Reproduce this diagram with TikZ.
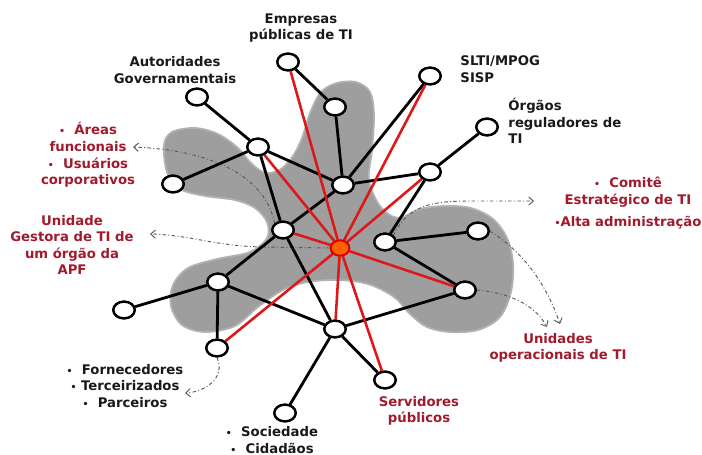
\documentclass[tikz,border=0pt]{standalone}
\usepackage{fontspec}
\setmainfont{DejaVu Sans}
\usetikzlibrary{shapes.geometric,arrows.meta}
\definecolor{textored}{RGB}{160,27,45}
\definecolor{linhared}{RGB}{222,24,24}
\definecolor{blobcinza}{RGB}{158,158,158}
\definecolor{laranja}{RGB}{255,96,0}
\newcommand{\marca}{{\fontsize{8}{8}\selectfont •}}
\tikzset{
  vert/.style={ellipse, draw=black, line width=2pt, fill=white, minimum width=0.64cm, minimum height=0.5cm, inner sep=0pt},
  centro/.style={ellipse, draw=red!85!black, line width=1.6pt, fill=laranja, minimum width=0.56cm, minimum height=0.46cm, inner sep=0pt},
  rot/.style={font=\bfseries\fontsize{11.3}{14.1}\selectfont, align=center, inner sep=0pt, text=black!90},
  rotred/.style={rot, text=textored},
  lig/.style={line width=2.4pt, draw=black},
  ligred/.style={line width=2.2pt, draw=linhared},
  seta/.style={dash dot, line width=0.8pt, draw=black!65, -{Straight Barb[length=4pt,width=7pt]}},
}
\begin{document}
\begin{tikzpicture}[thick, x=0.03cm, y=-0.03cm]
\useasboundingbox (0,0) rectangle (702,455);
% mancha cinza
\filldraw[fill=blobcinza, draw=gray!60, line width=1.5pt] plot[smooth cycle, tension=0.55] coordinates {
 (164,145) (172,132) (195,128) (218,134) (238,148) (252,164) (266,173) (281,169) (293,156)
 (302,138) (310,113) (321,92) (337,83) (356,82) (370,92) (374,115) (372,150) (369,180)
 (380,206) (398,218) (420,209) (445,206) (471,208) (493,219) (507,238) (513,263) (511,292)
 (500,317) (478,330) (450,332) (427,327) (410,314) (394,297) (368,284) (338,280) (308,282)
 (283,290) (258,307) (235,326) (205,332) (182,325) (171,306) (173,285) (188,268) (217,259)
 (250,252) (267,238) (267,222) (255,208) (235,200) (205,196) (180,189) (167,172)};
% vertices
\node[vert] (P_emp_a) at (288,62) {};
\node[vert] (P_emp_b) at (335,107) {};
\node[vert] (P_aut) at (197,97) {};
\node[vert] (P_areas) at (258,147) {};
\node[vert] (P_usu) at (173,184) {};
\node[vert] (P_meio) at (343,185) {};
\node[vert] (P_slti) at (430,76) {};
\node[vert] (P_org) at (487,127) {};
\node[vert] (P_dir) at (430,172) {};
\node[vert] (P_gestora) at (283,230) {};
\node[vert] (P_comite) at (385,242) {};
\node[vert] (P_alta) at (478,231) {};
\node[vert] (P_oper) at (465,290) {};
\node[vert] (P_apf) at (218,282) {};
\node[vert] (P_esq) at (124,310) {};
\node[vert] (P_forn) at (217,348) {};
\node[vert] (P_baixo) at (335,329) {};
\node[vert] (P_soc) at (285,413) {};
\node[vert] (P_serv) at (385,380) {};
\node[centro] (P_centro) at (340,248) {};
% setas tracejadas
\coordinate (S_areas) at (133,147);
\coordinate (S_gestora) at (150,234);
\coordinate (S_comite) at (534,201);
\coordinate (S_op_a) at (560,324);
\coordinate (S_op_b) at (547,327);
\coordinate (S_forn) at (185,393);
\draw[seta] (P_gestora.north west) .. controls (265,175) and (210,150) .. (S_areas);
\draw[seta] (P_centro.west) -- (262,247) .. controls (215,246) and (190,235) .. (S_gestora);
\draw[seta] (P_comite.north east) .. controls (408,206) and (430,201) .. (470,201) -- (S_comite);
\draw[seta] (P_alta.east) .. controls (520,250) and (545,280) .. (S_op_a);
\draw[seta] (P_oper.east) .. controls (510,293) and (535,305) .. (S_op_b);
\draw[seta] (P_forn.south) .. controls (226,378) and (205,392) .. (S_forn);
% ligacoes pretas
\draw[lig] (P_emp_a) -- (P_emp_b);
\draw[lig] (P_emp_b) -- (P_meio);
\draw[lig] (P_aut) -- (P_areas);
\draw[lig] (P_areas) -- (P_usu);
\draw[lig] (P_areas) -- (P_meio);
\draw[lig] (P_areas) -- (P_gestora);
\draw[lig] (P_meio) -- (P_dir);
\draw[lig] (P_meio) -- (P_gestora);
\draw[lig] (P_slti) -- (P_meio);
\draw[lig] (P_org) -- (P_dir);
\draw[lig] (P_dir) -- (P_comite);
\draw[lig] (P_comite) -- (P_alta);
\draw[lig] (P_comite) -- (P_oper);
\draw[lig] (P_gestora) -- (P_apf);
\draw[lig] (P_gestora) -- (P_baixo);
\draw[lig] (P_apf) -- (P_esq);
\draw[lig] (P_apf) -- (P_forn);
\draw[lig] (P_apf) -- (P_baixo);
\draw[lig] (P_baixo) -- (P_oper);
\draw[lig] (P_baixo) -- (P_soc);
\draw[lig] (P_baixo) -- (P_serv);
% ligacoes vermelhas
\draw[ligred] (P_centro) -- (P_emp_a);
\draw[ligred] (P_centro) -- (P_slti);
\draw[ligred] (P_centro) -- (P_areas);
\draw[ligred] (P_centro) -- (P_dir);
\draw[ligred] (P_centro) -- (P_gestora);
\draw[ligred] (P_centro) -- (P_oper);
\draw[ligred] (P_centro) -- (P_forn);
\draw[ligred] (P_centro) -- (P_baixo);
\draw[ligred] (P_centro) -- (P_serv);
% redesenha os vertices por cima
\foreach \v in {P_emp_a,P_emp_b,P_aut,P_areas,P_usu,P_meio,P_slti,P_org,P_dir,P_gestora,P_comite,P_alta,P_oper,P_apf,P_esq,P_forn,P_baixo,P_soc,P_serv}
  \node[vert] at (\v) {};
\node[centro] at (P_centro) {};
% rotulos
\node[rot] (T_emp) at (301,28) {Empresas\\públicas de TI};
\node[rot] (T_aut) at (175,70) {Autoridades\\Governamentais};
\node[rot, anchor=west, align=left] (T_slti) at (460,69) {SLTI/MPOG\\SISP};
\node[rot, anchor=west, align=left] (T_org) at (508,121) {Órgãos\\reguladores de\\TI};
\node[rotred] (T_areas) at (88,155) {\marca\ \ Áreas\\funcionais\\\marca\ \ Usuários\\corporativos};
\node[rotred] (T_gestora) at (72,245) {Unidade\\Gestora de TI de\\um órgão da\\APF};
\node[rotred] (T_comite) at (628,203) {\marca\ \ Comitê\\Estratégico de TI\\[5pt]\marca Alta administração};
\node[rotred] (T_op) at (558,348) {Unidades\\operacionais de TI};
\node[rotred] (T_serv) at (419,411) {Servidores\\públicos};
\node[rot] (T_forn) at (125,386) {\marca\ \ Fornecedores\\\marca\ Terceirizados\\\marca\ \ Parceiros};
\node[rot, anchor=south] (T_soc) at (272,454) {\marca\ \ Sociedade\\\marca\ \ Cidadãos};
\end{tikzpicture}
\end{document}
